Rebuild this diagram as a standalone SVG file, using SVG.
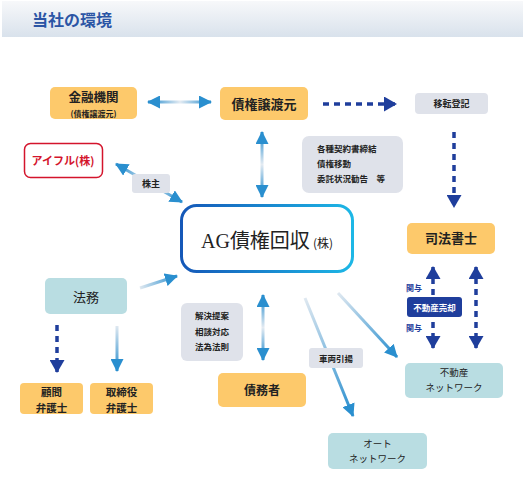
<svg xmlns="http://www.w3.org/2000/svg" width="523" height="500" viewBox="0 0 523 500">
<style>
text{font-family:"Noto Sans CJK JP","Liberation Sans",sans-serif;fill:#222;}
.b{font-weight:bold;}
.c{text-anchor:middle;}
.or{fill:#fdc96b;}
.te{fill:#b9dde2;}
.gr{fill:#dfe2ea;}
.dash{stroke:#1f3e9c;stroke-width:3.5;stroke-dasharray:6 5;fill:none;}
.sl{stroke-width:3;fill:none;}
</style>
<defs>
<linearGradient id="hdr" x1="0" y1="0" x2="0" y2="1">
<stop offset="0" stop-color="#f7f8fa"/><stop offset="1" stop-color="#d9e2ec"/>
</linearGradient>
<linearGradient id="agS" x1="0" y1="0" x2="1" y2="0">
<stop offset="0" stop-color="#1558b8"/><stop offset="1" stop-color="#1db7e6"/>
</linearGradient>
<linearGradient id="g1" gradientUnits="userSpaceOnUse" x1="150" y1="0" x2="210" y2="0">
<stop offset="0" stop-color="#2a8fcf"/><stop offset="0.5" stop-color="#e4ebf2"/><stop offset="1" stop-color="#2a8fcf"/>
</linearGradient>
<linearGradient id="g2" gradientUnits="userSpaceOnUse" x1="0" y1="134" x2="0" y2="195">
<stop offset="0" stop-color="#2a8fcf"/><stop offset="0.5" stop-color="#e4ebf2"/><stop offset="1" stop-color="#2a8fcf"/>
</linearGradient>
<linearGradient id="g3" gradientUnits="userSpaceOnUse" x1="0" y1="297" x2="0" y2="358">
<stop offset="0" stop-color="#2a8fcf"/><stop offset="0.5" stop-color="#e4ebf2"/><stop offset="1" stop-color="#2a8fcf"/>
</linearGradient>
<linearGradient id="g4" gradientUnits="userSpaceOnUse" x1="118" y1="165" x2="180" y2="201">
<stop offset="0" stop-color="#2a8fcf"/><stop offset="0.5" stop-color="#dfe8f0"/><stop offset="1" stop-color="#2a8fcf"/>
</linearGradient>
<linearGradient id="g5" gradientUnits="userSpaceOnUse" x1="140" y1="288" x2="176" y2="276">
<stop offset="0" stop-color="#dfe8f0"/><stop offset="1" stop-color="#2a8fcf"/>
</linearGradient>
<linearGradient id="g6" gradientUnits="userSpaceOnUse" x1="0" y1="326" x2="0" y2="370">
<stop offset="0" stop-color="#dfe8f0"/><stop offset="1" stop-color="#2a8fcf"/>
</linearGradient>
<linearGradient id="g7" gradientUnits="userSpaceOnUse" x1="305" y1="298" x2="352" y2="414">
<stop offset="0" stop-color="#dfe8f0"/><stop offset="1" stop-color="#2a8fcf"/>
</linearGradient>
<linearGradient id="g8" gradientUnits="userSpaceOnUse" x1="338" y1="293" x2="396" y2="356">
<stop offset="0" stop-color="#dfe8f0"/><stop offset="1" stop-color="#2a8fcf"/>
</linearGradient>
<marker id="ab" markerUnits="userSpaceOnUse" markerWidth="13" markerHeight="13" refX="12" refY="6.5" orient="auto-start-reverse" viewBox="0 0 13 13">
<path d="M0,0 L13,6.5 L0,13 Z" fill="#2a8fcf"/>
</marker>
<marker id="ad" markerUnits="userSpaceOnUse" markerWidth="13" markerHeight="15" refX="12" refY="7.5" orient="auto-start-reverse" viewBox="0 0 13 15">
<path d="M0,0 L13,7.5 L0,15 Z" fill="#1f3e9c"/>
</marker>
</defs>

<rect x="2" y="1" width="521" height="36" fill="url(#hdr)"/>
<text x="32" y="26" class="b" font-size="16" style="fill:#2b55a5">当社の環境</text>

<g id="connectors">
<line x1="148" y1="102" x2="211" y2="102" stroke="url(#g1)" class="sl" marker-start="url(#ab)" marker-end="url(#ab)"/>
<line x1="262" y1="132" x2="262" y2="197" stroke="url(#g2)" class="sl" marker-start="url(#ab)" marker-end="url(#ab)"/>
<line x1="263" y1="295" x2="263" y2="360" stroke="url(#g3)" class="sl" marker-start="url(#ab)" marker-end="url(#ab)"/>
<line x1="116" y1="164" x2="182" y2="202" stroke="url(#g4)" class="sl" marker-start="url(#ab)" marker-end="url(#ab)"/>
<line x1="140" y1="288" x2="177" y2="276" stroke="url(#g5)" class="sl" marker-end="url(#ab)"/>
<line x1="117" y1="326" x2="117" y2="371" stroke="url(#g6)" class="sl" marker-end="url(#ab)"/>
<line x1="305" y1="298" x2="353" y2="416" stroke="url(#g7)" class="sl" marker-end="url(#ab)"/>
<line x1="338" y1="293" x2="397" y2="357" stroke="url(#g8)" class="sl" marker-end="url(#ab)"/>
<line x1="323" y1="104" x2="396" y2="104" class="dash" marker-end="url(#ad)"/>
<line x1="454" y1="132" x2="454" y2="207" class="dash" marker-end="url(#ad)"/>
<line x1="57" y1="325" x2="57" y2="372" class="dash" marker-end="url(#ad)"/>
<line x1="433" y1="267" x2="433" y2="348" class="dash" marker-start="url(#ad)" marker-end="url(#ad)"/>
<line x1="476" y1="267" x2="476" y2="348" class="dash" marker-start="url(#ad)" marker-end="url(#ad)"/>
</g>

<g id="kinyu">
<rect x="50" y="87" width="87" height="32" rx="5" class="or"/>
<text x="93.5" y="102" class="b c" font-size="12.5">金融機関</text>
<text x="93.5" y="116.5" class="b c" font-size="8">(債権譲渡元)</text>
</g>
<g id="joto">
<rect x="220" y="87" width="88" height="33" rx="5" class="or"/>
<text x="264" y="108.5" class="b c" font-size="13">債権譲渡元</text>
</g>
<g id="iten">
<rect x="415" y="93" width="73" height="21" rx="4" class="gr"/>
<text x="451.5" y="107" class="b c" font-size="9">移転登記</text>
</g>
<g id="note1">
<rect x="302" y="136" width="101" height="57" rx="7" class="gr"/>
<text x="317" y="152" class="b" font-size="8.5">各種契約書締結</text>
<text x="317" y="167" class="b" font-size="8.5">債権移動</text>
<text x="317" y="182" class="b" font-size="8.5">委託状況勧告　等</text>
</g>
<g id="aiful">
<rect x="24.5" y="143.5" width="78" height="34" rx="6" fill="#fff" stroke="#d4142c" stroke-width="1.5"/>
<text x="63" y="165" class="b c" font-size="11" style="fill:#d4142c">アイフル(株)</text>
</g>
<g id="kabunushi">
<rect x="132" y="174" width="38" height="19" rx="3" class="gr"/>
<text x="151" y="187" class="b c" font-size="9">株主</text>
</g>
<g id="ag">
<rect x="181.5" y="205.5" width="171" height="66" rx="15" fill="#fff" stroke="url(#agS)" stroke-width="3"/>
<text x="267" y="248" class="c" font-size="20"><tspan style="font-family:'Liberation Serif',serif">AG</tspan>債権回収<tspan font-size="12" dx="3">(株)</tspan></text>
</g>
<g id="shiho">
<rect x="407" y="223" width="88" height="31" rx="5" class="or"/>
<text x="451" y="243" class="b c" font-size="13">司法書士</text>
</g>
<g id="kanyo1"><text x="406" y="291" class="b" font-size="8" style="fill:#1f3e9c">関与</text></g>
<g id="baikyaku">
<rect x="407" y="297" width="55" height="20" rx="3" fill="#1f3e9c"/>
<text x="434.5" y="310.5" class="b c" font-size="8.5" style="fill:#fff">不動産売却</text>
</g>
<g id="kanyo2"><text x="406" y="331" class="b" font-size="8" style="fill:#1f3e9c">関与</text></g>
<g id="fudosan">
<rect x="405" y="363" width="98" height="35" rx="5" class="te"/>
<text x="454" y="376" class="c" font-size="9.5">不動産</text>
<text x="454" y="390.5" class="c" font-size="9.5">ネットワーク</text>
</g>
<g id="homu">
<rect x="45" y="278" width="82" height="36" rx="5" class="te"/>
<text x="86" y="301.5" class="c" font-size="13">法務</text>
</g>
<g id="komon">
<rect x="20" y="383" width="63" height="31" rx="4" class="or"/>
<text x="51.5" y="396" class="b c" font-size="10.5">顧問</text>
<text x="51.5" y="411.5" class="b c" font-size="10.5">弁護士</text>
</g>
<g id="torishimari">
<rect x="90" y="383" width="63" height="31" rx="4" class="or"/>
<text x="121.5" y="396" class="b c" font-size="10.5">取締役</text>
<text x="121.5" y="411.5" class="b c" font-size="10.5">弁護士</text>
</g>
<g id="note2">
<rect x="181" y="303" width="62" height="58" rx="6" class="gr"/>
<text x="212" y="319" class="b c" font-size="8.5">解決提案</text>
<text x="212" y="335" class="b c" font-size="8.5">相談対応</text>
<text x="212" y="350" class="b c" font-size="8.5">法為法則</text>
</g>
<g id="saimusha">
<rect x="218" y="373" width="88" height="34" rx="5" class="or"/>
<text x="262" y="394.5" class="b c" font-size="12">債務者</text>
</g>
<g id="sharyo">
<rect x="309" y="348" width="54" height="20" rx="3" class="gr"/>
<text x="336" y="361.5" class="b c" font-size="8.5">車両引揚</text>
</g>
<g id="auto">
<rect x="328" y="433" width="99" height="36" rx="5" class="te"/>
<text x="377.5" y="447" class="c" font-size="9.5">オート</text>
<text x="377.5" y="461.5" class="c" font-size="9.5">ネットワーク</text>
</g>
</svg>
